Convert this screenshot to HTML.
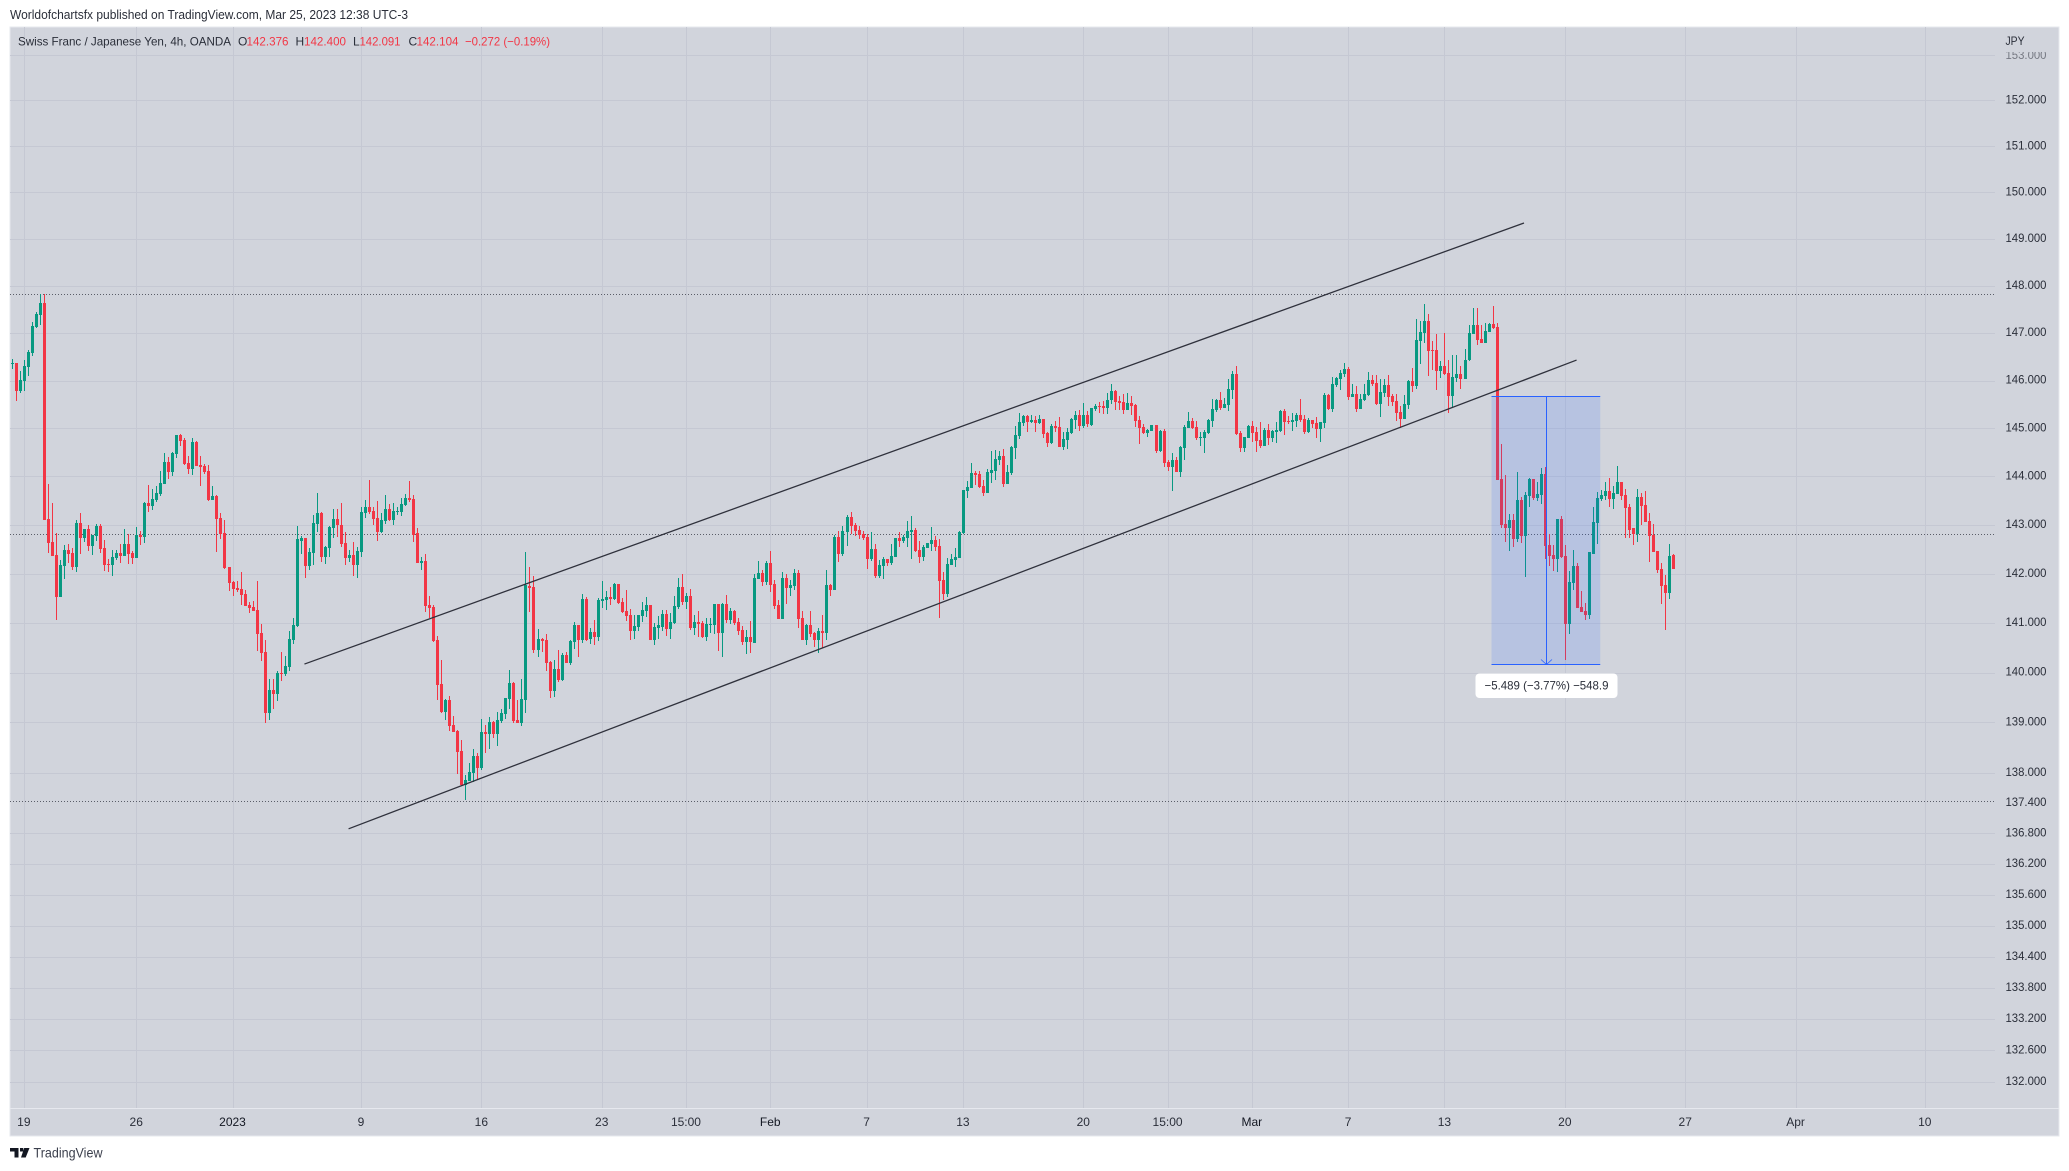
<!DOCTYPE html>
<html lang="en">
<head>
<meta charset="utf-8">
<title>CHF/JPY 4h chart</title>
<style>
html,body{margin:0;padding:0;background:#fff;width:2069px;height:1171px;overflow:hidden}
svg{display:block}
text{font-family:"Liberation Sans",sans-serif;font-size:12px;fill:#2a2e39}
</style>
</head>
<body>
<svg id="chart" xmlns="http://www.w3.org/2000/svg" width="2069" height="1171" viewBox="0 0 2069 1171">
  <defs>
    <clipPath id="clip-top-label"><rect x="1996" y="52" width="63" height="20"/></clipPath>
  </defs>
  <text x="10" y="19" textLength="398" lengthAdjust="spacingAndGlyphs" style="font-size:12.5px">Worldofchartsfx published on TradingView.com, Mar 25, 2023 12:38 UTC-3</text>
  <rect x="10" y="27" width="2049" height="1109" fill="#d1d4dc" stroke="#e6e8ee" stroke-width="1"/>
  <g id="grid"></g>
  <g id="levels"></g>
  <g id="candles" shape-rendering="crispEdges"></g>
  <g id="trends"></g>
  <g id="measure"></g>
  <line x1="10" x2="2059" y1="1108.5" y2="1108.5" stroke="#e6e8ee"/>
  <g id="price-axis"></g>
  <g id="time-axis"></g>
  <text x="2005.5" y="45" textLength="19" lengthAdjust="spacingAndGlyphs">JPY</text>
  <g>
    <text x="18" y="45.500" textLength="213" lengthAdjust="spacingAndGlyphs">Swiss Franc / Japanese Yen, 4h, OANDA</text>
    <text x="238" y="45.500">O</text>
    <text x="246.5" y="45.500" textLength="42" lengthAdjust="spacingAndGlyphs" style="fill:#f23645">142.376</text>
    <text x="295.5" y="45.500">H</text>
    <text x="304" y="45.500" textLength="42" lengthAdjust="spacingAndGlyphs" style="fill:#f23645">142.400</text>
    <text x="353" y="45.500">L</text>
    <text x="359.5" y="45.500" textLength="41" lengthAdjust="spacingAndGlyphs" style="fill:#f23645">142.091</text>
    <text x="408.5" y="45.500">C</text>
    <text x="416.5" y="45.500" textLength="42" lengthAdjust="spacingAndGlyphs" style="fill:#f23645">142.104</text>
    <text x="465" y="45.500" textLength="85" lengthAdjust="spacingAndGlyphs" style="fill:#f23645">−0.272 (−0.19%)</text>
  </g>
  <g>
    <path fill="#131722" d="M10 1148h8.500v9.500h-4v-6h-4.500zM20 1148h3.300v3.500h-3.300zM24.200 1148h5.300l-3.800 9.500h-4.700z"/>
    <text x="33.500" y="1157.700" textLength="69" lengthAdjust="spacingAndGlyphs" style="font-size:14px;fill:#3b3f4c">TradingView</text>
  </g>
</svg>
<script>
const opens = [
146.35,146.37,145.78,145.99,146.28,146.58,147.13,147.38,147.64,143.12,
142.65,142.38,141.53,142.16,142.49,142.42,142.14,143.04,142.73,142.92,
142.57,142.77,142.98,142.53,142.20,142.18,142.32,142.42,142.36,142.61,
142.42,142.32,142.79,142.75,143.45,143.39,143.51,143.63,143.84,144.30,
144.09,144.47,144.86,144.76,144.28,144.15,144.72,144.24,144.22,144.11,
143.51,143.59,143.14,142.84,142.14,141.83,141.71,141.69,141.59,141.36,
141.32,141.26,140.80,140.41,139.19,139.65,139.57,139.99,139.97,140.11,
140.65,140.93,142.68,142.73,142.15,142.42,143.03,143.24,142.34,142.52,
142.93,143.12,143.01,142.64,142.32,142.38,142.17,142.44,143.24,143.37,
143.28,143.14,142.85,143.08,143.32,143.10,143.26,143.26,143.41,143.55,
143.53,142.83,142.23,142.27,141.36,141.32,140.65,139.77,139.21,139.45,
138.95,138.83,138.43,137.75,137.83,137.99,138.33,138.09,138.81,138.77,
139.01,138.77,139.03,139.17,139.47,139.79,139.05,138.99,139.45,141.76,
141.74,140.45,140.67,140.65,140.21,139.63,140.07,139.85,140.35,140.19,
140.61,140.96,140.66,141.49,140.68,140.82,140.72,141.45,141.47,141.53,
141.49,141.79,141.43,141.24,141.16,140.84,140.92,141.14,141.24,141.36,
140.66,140.90,140.92,141.18,140.88,141.00,141.32,141.73,141.43,141.55,
140.90,141.02,141.00,140.72,140.96,140.96,141.39,140.80,141.39,141.06,
141.24,141.02,140.86,140.61,140.72,140.59,141.89,142.01,141.83,142.22,
141.79,141.36,141.08,141.91,141.71,141.75,142.01,141.10,140.66,140.96,
140.80,140.66,140.84,140.80,141.77,141.67,142.75,142.40,142.86,143.16,
143.00,142.90,142.82,142.75,142.30,142.51,141.95,142.16,142.30,142.22,
142.34,142.73,142.67,142.73,142.86,142.90,142.49,142.34,142.53,142.61,
142.69,142.57,141.87,141.59,142.18,142.28,142.32,142.84,143.70,143.76,
144.07,144.05,143.80,143.66,144.07,144.11,144.34,144.42,143.84,144.07,
144.59,144.84,145.11,145.26,145.13,145.17,145.11,145.19,144.90,144.69,
145.05,145.03,144.61,144.76,144.90,145.17,145.28,145.05,145.28,145.07,
145.40,145.47,145.47,145.42,145.59,145.78,145.57,145.55,145.38,145.53,
145.49,145.17,145.03,144.90,144.94,145.07,144.53,144.94,144.30,144.19,
144.34,144.09,144.59,145.01,145.15,145.03,144.80,144.80,144.90,145.15,
145.38,145.59,145.42,145.49,145.80,146.13,144.90,144.59,144.80,145.05,
144.92,144.76,144.63,144.97,144.80,144.92,144.94,145.36,145.15,145.13,
145.15,145.28,145.19,144.92,145.17,145.11,144.99,145.11,145.69,145.40,
145.90,146.03,146.13,146.24,145.65,145.72,145.40,145.59,145.69,146.01,
145.94,145.51,145.74,145.90,145.67,145.57,145.34,145.19,145.49,145.99,
145.88,146.84,147.01,147.26,146.65,146.65,146.19,146.30,146.15,145.67,
146.05,146.13,146.03,146.44,146.99,147.16,146.88,146.80,147.03,147.20,
147.13,143.94,143.03,142.93,143.11,142.72,143.51,142.78,143.59,143.94,
143.55,143.61,144.05,142.58,142.39,142.31,143.13,142.37,140.97,141.82,
142.15,141.33,141.25,141.17,142.41,143.05,143.53,143.59,143.69,143.53,
143.63,143.88,143.61,143.36,142.93,142.82,143.57,143.42,143.09,142.80,
142.46,142.09,141.78,141.60,142.376];
const highs = [
146.45,146.37,146.20,146.43,146.64,147.23,147.45,147.83,147.82,143.84,
143.45,142.84,142.28,142.59,142.61,142.53,143.10,143.25,142.92,143.00,
142.79,143.02,143.02,142.69,142.30,142.49,142.49,142.61,142.92,142.82,
142.47,142.96,142.88,143.47,143.82,143.74,143.80,144.11,144.49,144.40,
144.51,144.86,144.88,144.80,144.42,144.80,144.74,144.42,144.26,144.24,
143.80,143.61,143.24,143.10,142.14,141.85,141.85,142.03,141.67,141.43,
141.45,141.85,140.98,140.66,139.87,139.87,140.03,140.41,140.33,140.84,
141.11,142.97,142.77,142.73,142.52,143.20,143.66,143.26,142.56,142.97,
143.32,143.32,143.45,142.85,142.48,142.66,142.54,143.37,143.51,143.92,
143.37,143.50,143.24,143.61,143.43,143.45,143.37,143.55,143.63,143.90,
143.61,142.93,142.34,142.40,141.54,141.36,140.73,140.25,139.47,139.53,
139.13,138.85,138.65,137.95,138.19,138.47,138.39,139.07,138.95,139.11,
139.03,139.21,139.27,139.49,140.05,139.81,139.45,139.87,142.45,142.13,
141.95,140.87,140.69,140.77,140.23,140.25,140.45,140.39,140.41,140.65,
141.01,140.96,141.59,141.53,140.90,141.06,141.51,141.85,141.65,141.73,
141.81,141.79,141.51,141.67,141.28,141.16,141.16,141.43,141.53,141.36,
141.00,141.14,141.26,141.26,141.20,141.55,141.91,141.99,141.61,141.69,
141.16,141.24,141.04,141.10,141.10,141.39,141.39,141.41,141.57,141.30,
141.26,141.10,140.94,140.86,141.04,141.99,142.26,142.07,142.26,142.47,
141.87,141.47,142.03,141.99,141.87,142.10,142.07,141.24,140.98,141.24,
140.82,140.90,141.16,142.07,141.79,142.79,142.88,142.98,143.21,143.27,
143.04,142.98,142.88,142.82,142.86,142.61,142.28,142.34,142.30,142.61,
142.73,142.86,142.79,143.08,143.18,142.94,142.67,142.59,142.63,142.96,
142.77,142.71,142.03,142.32,142.40,142.53,142.88,143.72,143.90,144.28,
144.11,144.11,143.92,144.15,144.53,144.55,144.53,144.57,144.24,144.63,
145.05,145.32,145.28,145.28,145.28,145.26,145.28,145.19,144.92,145.09,
145.15,145.24,144.92,145.01,145.22,145.36,145.38,145.52,145.36,145.42,
145.50,145.55,145.57,145.74,145.92,145.80,145.67,145.72,145.74,145.67,
145.51,145.26,145.09,144.99,145.07,145.07,144.97,144.99,144.34,144.49,
144.40,144.63,145.07,145.34,145.22,145.15,144.92,144.97,145.19,145.61,
145.61,145.76,145.63,146.03,146.19,146.30,144.94,144.82,145.07,145.15,
145.03,145.13,145.01,145.09,144.97,145.13,145.38,145.40,145.26,145.32,
145.32,145.61,145.28,145.22,145.17,145.24,145.13,145.74,145.72,146.07,
146.07,146.22,146.36,146.28,145.92,145.88,145.72,145.92,146.17,146.11,
146.11,146.03,146.03,146.11,145.72,145.72,145.47,145.69,146.01,146.26,
147.30,147.26,147.62,147.41,146.84,146.99,146.42,147.01,146.44,146.53,
146.53,146.30,146.67,147.16,147.54,147.54,147.16,147.22,147.22,147.58,
147.22,144.67,144.03,143.22,143.22,144.09,143.57,143.67,143.97,143.94,
143.88,144.17,144.19,142.82,142.58,143.13,143.19,142.58,142.05,142.48,
142.23,141.64,141.41,142.44,143.36,143.67,143.72,143.88,143.97,143.80,
144.22,143.88,143.74,143.44,142.93,143.74,143.65,143.69,143.24,143.03,
142.46,142.23,141.97,142.62,142.400];
const lows = [
146.25,145.57,145.74,145.78,146.09,146.51,147.11,147.17,143.10,142.42,
142.36,141.06,141.53,141.89,142.22,142.07,142.03,142.40,142.65,142.47,
142.38,142.67,142.42,142.05,142.03,141.95,142.28,142.22,142.36,142.20,
142.20,142.32,142.59,142.63,143.26,143.30,143.47,143.59,143.84,143.94,
144.01,144.38,144.63,144.24,144.05,144.03,144.22,143.80,144.05,143.49,
143.51,142.44,142.71,142.10,141.65,141.55,141.63,141.36,141.34,141.20,
141.24,140.43,140.23,138.99,139.05,139.27,139.43,139.83,139.93,140.03,
140.57,140.91,142.40,141.91,142.07,142.19,142.85,142.25,142.21,142.34,
142.73,142.75,142.54,142.17,142.25,141.95,141.91,142.34,143.14,143.22,
142.99,142.68,142.83,143.03,143.08,142.99,143.20,143.18,143.39,143.47,
142.66,142.23,142.07,141.22,141.11,140.61,139.45,139.19,139.05,138.83,
138.81,137.97,137.73,137.45,137.83,137.81,137.85,138.05,138.39,138.47,
138.69,138.53,138.99,139.07,139.27,138.99,138.99,138.93,139.19,141.22,
140.39,140.31,140.41,140.03,139.49,139.51,139.81,139.83,140.19,140.15,
140.47,140.31,140.59,140.64,140.57,140.55,140.64,141.30,141.26,141.36,
141.47,141.39,141.20,141.04,140.66,140.68,140.84,141.02,141.12,140.66,
140.55,140.68,140.84,140.74,140.68,140.98,141.28,141.36,141.28,140.86,
140.76,140.72,140.70,140.64,140.80,140.78,140.43,140.31,141.00,140.98,
140.96,140.76,140.55,140.37,140.39,140.59,141.89,141.75,141.77,141.63,
141.28,141.08,141.08,141.39,141.55,141.67,140.90,140.66,140.55,140.72,
140.51,140.39,140.49,140.66,141.55,141.67,142.24,142.36,142.57,142.82,
142.77,142.71,142.69,142.10,142.26,141.91,141.91,141.89,142.16,142.18,
142.34,142.55,142.63,142.55,142.30,142.45,142.22,142.26,142.53,142.47,
142.47,141.10,141.47,141.53,142.18,142.14,142.32,142.82,143.55,143.76,
143.82,143.76,143.60,143.66,143.86,143.92,144.24,143.78,143.84,144.03,
144.36,144.78,145.05,144.92,145.11,144.92,145.09,144.80,144.61,144.67,
144.92,144.61,144.55,144.57,144.88,144.99,144.94,145.01,145.03,145.05,
145.36,145.32,145.30,145.30,145.51,145.38,145.38,145.30,145.38,145.28,
145.03,144.67,144.88,144.82,144.94,144.49,144.51,144.19,144.11,143.70,
144.09,143.99,144.34,145.01,144.99,144.76,144.63,144.49,144.88,145.03,
145.34,145.38,145.42,145.36,145.61,144.86,144.51,144.51,144.80,144.72,
144.51,144.59,144.63,144.65,144.72,144.70,144.92,144.86,145.09,144.94,
145.03,145.13,144.88,144.90,145.01,144.80,144.72,145.01,145.38,145.34,
145.86,145.80,146.07,145.59,145.65,145.34,145.40,145.57,145.67,145.88,
145.49,145.24,145.65,145.47,145.47,145.15,145.01,145.19,145.40,145.76,
145.82,146.34,146.80,146.09,146.22,145.80,146.05,146.11,145.32,145.42,
145.97,145.82,146.03,146.42,146.99,146.74,146.80,146.80,147.03,147.09,
143.92,142.93,142.66,142.46,142.54,142.66,142.64,141.93,143.38,143.51,
143.49,143.44,142.31,142.15,142.05,142.03,142.33,140.25,140.77,141.66,
141.31,141.23,141.07,141.09,142.41,142.60,143.49,143.51,143.36,143.32,
143.63,143.51,142.74,142.74,142.58,142.66,143.01,143.07,142.25,142.44,
142.01,141.39,140.85,141.48,142.091];
const closes = [
146.37,145.78,146.01,146.30,146.60,147.15,147.40,147.64,143.10,142.63,
142.36,141.53,142.18,142.49,142.40,142.14,143.04,142.73,142.92,142.57,
142.79,142.98,142.51,142.18,142.18,142.34,142.42,142.36,142.61,142.40,
142.32,142.79,142.75,143.45,143.39,143.53,143.66,143.86,144.30,144.09,
144.49,144.86,144.74,144.26,144.15,144.72,144.22,144.19,144.09,143.51,
143.59,143.12,142.81,142.12,141.81,141.69,141.67,141.57,141.34,141.30,
141.24,140.78,140.39,139.19,139.65,139.57,139.99,139.97,140.13,140.68,
140.95,142.71,142.73,142.15,142.44,143.05,143.24,142.34,142.54,142.95,
143.12,142.99,142.62,142.32,142.38,142.17,142.46,143.26,143.37,143.26,
143.12,142.85,143.10,143.32,143.10,143.28,143.28,143.43,143.55,143.51,
142.79,142.23,142.27,141.34,141.30,140.63,139.75,139.21,139.45,138.93,
138.81,138.41,137.75,137.85,138.01,138.33,138.09,138.81,138.77,139.01,
138.77,139.05,139.19,139.49,139.79,139.03,138.99,139.47,141.78,141.72,
140.45,140.67,140.63,140.19,139.63,140.07,139.85,140.35,140.19,140.63,
140.95,140.66,141.49,140.66,140.82,140.72,141.47,141.49,141.53,141.49,
141.79,141.41,141.22,141.14,140.84,140.94,141.16,141.26,141.36,140.66,
140.92,140.96,141.18,140.88,141.02,141.34,141.73,141.43,141.55,140.90,
141.02,140.98,140.72,140.98,140.98,141.39,140.80,141.39,141.06,141.24,
141.00,140.84,140.61,140.72,140.61,141.91,142.01,141.83,142.22,141.77,
141.34,141.08,141.91,141.71,141.77,142.01,141.08,140.66,140.96,140.78,
140.66,140.84,140.80,141.77,141.67,142.75,142.40,142.88,143.17,142.98,
142.88,142.79,142.73,142.30,142.51,141.95,142.18,142.30,142.22,142.36,
142.73,142.67,142.75,142.88,142.90,142.47,142.34,142.55,142.63,142.69,
142.55,141.85,141.59,142.20,142.30,142.34,142.86,143.72,143.78,144.07,
144.03,143.78,143.66,144.09,144.13,144.36,144.42,143.84,144.09,144.61,
144.86,145.13,145.26,145.13,145.17,145.11,145.19,144.88,144.69,145.05,
145.01,144.61,144.78,144.92,145.19,145.28,145.05,145.28,145.09,145.42,
145.46,145.44,145.42,145.59,145.78,145.55,145.53,145.38,145.53,145.47,
145.15,145.01,144.90,144.97,145.07,144.53,144.94,144.28,144.19,144.34,
144.09,144.61,145.03,145.15,145.01,144.80,144.82,144.92,145.17,145.40,
145.59,145.42,145.51,145.82,146.13,144.88,144.59,144.82,145.05,144.90,
144.74,144.63,144.97,144.80,144.94,144.97,145.36,145.13,145.13,145.17,
145.28,145.17,144.92,145.17,145.09,144.99,145.13,145.69,145.40,145.92,
146.05,146.15,146.24,145.65,145.72,145.40,145.61,145.72,146.01,145.92,
145.51,145.76,145.90,145.65,145.55,145.32,145.19,145.51,145.99,145.88,
146.86,147.03,147.26,146.63,146.63,146.19,146.30,146.13,145.67,146.07,
146.13,146.03,146.44,147.01,147.16,146.86,146.80,147.05,147.20,147.11,
143.92,143.01,142.93,143.11,142.72,143.51,142.78,143.61,143.94,143.55,
143.63,144.05,142.56,142.37,142.31,143.13,142.35,140.97,141.84,142.15,
141.31,141.23,141.17,142.44,143.07,143.55,143.61,143.69,143.53,143.65,
143.88,143.59,143.34,142.90,142.82,143.57,143.40,143.07,142.78,142.44,
142.07,141.76,141.60,142.37,142.104];

const priceTicks = [153,152,151,150,149,148,147,146,145,144,143,142,141,140,139,138,137.4,136.8,136.2,135.6,135,134.4,133.8,133.2,132.6,132];
const timeTickLabels = ['19','26','2023','9','16','23','15:00','Feb','7','13','20','15:00','Mar','7','13','20','27','Apr','10'];
const timeTickBars = [3,31,55,87,117,147,168,189,213,237,267,288,309,333,357,387,417,444.5,476.7];
const emphasizedTimeLabels = ['2023','Feb','Mar'];
const levelPrices = [147.82,142.81,137.44];
const upperChannelBars = [72.8,376.7];
const upperChannelPrices = [140.17,149.343];
const lowerChannelBars = [83.8,389.8];
const lowerChannelPrices = [136.89,146.43];
const measureBars = [368.6,395.7];
const measurePrices = [145.67,140.181];
const measureText = '−5.489 (−3.77%) −548.9';

const NS = 'http://www.w3.org/2000/svg';
function priceY(p){ return 100.3 + 6958 * Math.log(152 / p); }
function barX(i){ return 12.3 + 4.013 * i; }
function mk(tag, attrs){
  const e = document.createElementNS(NS, tag);
  for (const k in attrs) e.setAttribute(k, attrs[k]);
  return e;
}

/* grid */
const gridG = document.getElementById('grid');
priceTicks.forEach(function(t){
  if (t === 137.4) return;
  const y = Math.round(priceY(t)) + 0.5;
  const l = mk('line', {x1:10, x2:1995, y1:y, y2:y, stroke:'#c5c8d3'});
  
  
  gridG.appendChild(l);
});
timeTickBars.forEach(function(b){
  const x = Math.floor(barX(b)) + 0.5;
  const l = mk('line', {x1:x, x2:x, y1:27, y2:1108, stroke:'#c5c8d3'});
  
  
  gridG.appendChild(l);
});

/* dotted levels */
const levelsG = document.getElementById('levels');
levelPrices.forEach(function(p){
  const y = Math.round(priceY(p)) + 0.5;
  const l = mk('line', {x1:10, x2:1994, y1:y, y2:y, stroke:'#5a5d68', 'stroke-dasharray':'1 2'});
  
  
  levelsG.appendChild(l);
});

/* candles */
const candlesG = document.getElementById('candles');
closes.forEach(function(c, i){
  const o = opens[i];
  const color = c >= o ? '#089981' : '#f23645';
  const left = Math.floor(barX(i));
  const hy = Math.round(priceY(highs[i]));
  const ly = Math.round(priceY(lows[i]));
  const wick = mk('rect', {x:left, y:hy, width:1, height:Math.max(1, ly - hy), fill:color});
  
  
  candlesG.appendChild(wick);
  const top = Math.round(priceY(Math.max(o, c)));
  const bot = Math.round(priceY(Math.min(o, c)));
  const body = mk('rect', {x:left - 1, y:top, width:3, height:Math.max(1, bot - top), fill:color});
  
  
  candlesG.appendChild(body);
});

/* trend channel */
const trendsG = document.getElementById('trends');
const upperLine = mk('line', {x1:barX(upperChannelBars[0]), y1:priceY(upperChannelPrices[0]), x2:barX(upperChannelBars[1]), y2:priceY(upperChannelPrices[1]), stroke:'#2f313c', 'stroke-width':1.3});


trendsG.appendChild(upperLine);
const lowerLine = mk('line', {x1:barX(lowerChannelBars[0]), y1:priceY(lowerChannelPrices[0]), x2:barX(lowerChannelBars[1]), y2:priceY(lowerChannelPrices[1]), stroke:'#2f313c', 'stroke-width':1.3});


trendsG.appendChild(lowerLine);

/* measure tool */
const measureG = document.getElementById('measure');
const mx0 = barX(measureBars[0]), mx1 = barX(measureBars[1]);
const my0 = Math.round(priceY(measurePrices[0])) + 0.5, my1 = Math.round(priceY(measurePrices[1])) + 0.5;
const mxc = Math.round((mx0 + mx1) / 2) + 0.5;
const fillRect = mk('rect', {x:mx0, y:my0, width:mx1 - mx0, height:my1 - my0, fill:'#2962ff', 'fill-opacity':0.15});


measureG.appendChild(fillRect);
const topEdge = mk('line', {x1:mx0, x2:mx1, y1:my0, y2:my0, stroke:'#2962ff'});


measureG.appendChild(topEdge);
const botEdge = mk('line', {x1:mx0, x2:mx1, y1:my1, y2:my1, stroke:'#2962ff'});


measureG.appendChild(botEdge);
const arrowShaft = mk('line', {x1:mxc, x2:mxc, y1:my0, y2:my1, stroke:'#2962ff'});


measureG.appendChild(arrowShaft);
const arrowHead = mk('path', {d:'M' + (mxc - 5.5) + ' ' + (my1 - 5) + 'L' + mxc + ' ' + my1 + 'L' + (mxc + 5.5) + ' ' + (my1 - 5), fill:'none', stroke:'#2962ff', 'stroke-width':0.8});


measureG.appendChild(arrowHead);
const labelBox = mk('rect', {x:mxc - 71, y:my1 + 9, width:142, height:24.500, rx:4, fill:'#ffffff'});


measureG.appendChild(labelBox);
const labelText = mk('text', {x:mxc - 62, y:my1 + 25, textLength:124, lengthAdjust:'spacingAndGlyphs'});


labelText.textContent = measureText;
measureG.appendChild(labelText);

/* price axis */
const priceG = document.getElementById('price-axis');
priceTicks.forEach(function(t){
  const tx = mk('text', {x:2005.5, y:priceY(t) + 3.200, textLength:41, lengthAdjust:'spacingAndGlyphs'});
  
  
  tx.textContent = t.toFixed(3);
  if (t === 153) { tx.setAttribute('clip-path', 'url(#clip-top-label)'); tx.setAttribute('opacity', '0.55'); tx.setAttribute('y', priceY(t) + 4.3); }
  priceG.appendChild(tx);
});

/* time axis */
const timeG = document.getElementById('time-axis');
timeTickLabels.forEach(function(label, i){
  const tx = mk('text', {x:barX(timeTickBars[i]) - 0.5, y:1126, 'text-anchor':'middle'});
  
  
  tx.textContent = label;
  if (emphasizedTimeLabels.indexOf(label) >= 0) tx.style.fill = '#131722';
  timeG.appendChild(tx);
});
</script>
</body>
</html>
